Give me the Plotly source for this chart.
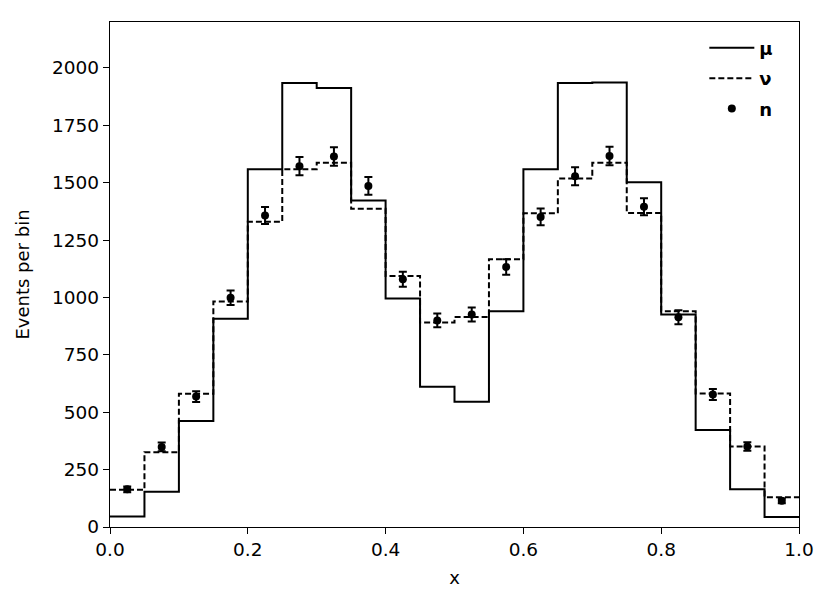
import plotly.graph_objects as go

edges = [i * 0.05 for i in range(21)]
centers = [0.025 + i * 0.05 for i in range(20)]

mu = [46, 154, 462, 907, 1559, 1934, 1912, 1422, 995, 611,
      546, 940, 1559, 1934, 1936, 1502, 926, 423, 165, 44]
nu = [162, 326, 580, 982, 1330, 1559, 1587, 1386, 1093, 891,
      915, 1166, 1367, 1518, 1587, 1368, 940, 582, 351, 130]
n = [164, 349, 568, 999, 1357, 1572, 1614, 1486, 1079, 900,
     926, 1133, 1351, 1528, 1616, 1395, 914, 577, 351, 114]
n_err = [12.8, 18.7, 23.8, 31.6, 36.8, 39.6, 40.2, 38.5, 32.8, 30.0,
         30.4, 33.7, 36.8, 39.1, 40.2, 37.3, 30.2, 24.0, 18.7, 10.7]

yticks = [0, 250, 500, 750, 1000, 1250, 1500, 1750, 2000]
xticks = [0.0, 0.2, 0.4, 0.6, 0.8, 1.0]

FONT = "DejaVu Sans"

fig = go.Figure()
fig.add_trace(go.Scatter(
    x=edges, y=mu + [mu[-1]], mode="lines", line_shape="hv", legendgroup="a",
    line=dict(color="black", width=2), name="<b>μ</b>"))
fig.add_trace(go.Scatter(
    x=edges, y=nu + [nu[-1]], mode="lines", line_shape="hv", legendgroup="b",
    line=dict(color="black", width=2, dash="6px,3px"), name="<b>ν</b>"))
fig.add_trace(go.Scatter(
    x=centers, y=n, mode="markers", name="<b>n</b>", legendgroup="c",
    marker=dict(color="black", size=8),
    error_y=dict(type="data", array=n_err, visible=True,
                 color="black", thickness=2, width=4)))

axis_common = dict(
    showgrid=False, zeroline=False, showline=True, linecolor="black",
    linewidth=1.3, mirror=True, ticks="outside", ticklen=6, tickwidth=1.3,
    tickcolor="black", tickfont=dict(family=FONT, size=18.5, color="black"),
)

fig.update_layout(
    width=823, height=596,
    margin=dict(l=102, r=32, t=14, b=77),
    paper_bgcolor="white", plot_bgcolor="white",
    font=dict(family=FONT, size=18, color="black"),
    xaxis=dict(range=[0, 1], tickvals=xticks, tickformat=".1f",
               title=dict(text="x", font=dict(family=FONT, size=18), standoff=12),
               **axis_common),
    yaxis=dict(range=[0, 2200], tickvals=yticks,
               title=dict(text="Events per bin", font=dict(family=FONT, size=18), standoff=17),
               **axis_common),
    legend=dict(x=0.97, y=0.985, xanchor="right", yanchor="top",
                bgcolor="rgba(0,0,0,0)", font=dict(family=FONT, size=18),
                itemwidth=45, tracegroupgap=4, traceorder="grouped"),
    showlegend=True,
)

fig.write_html("out.html")
